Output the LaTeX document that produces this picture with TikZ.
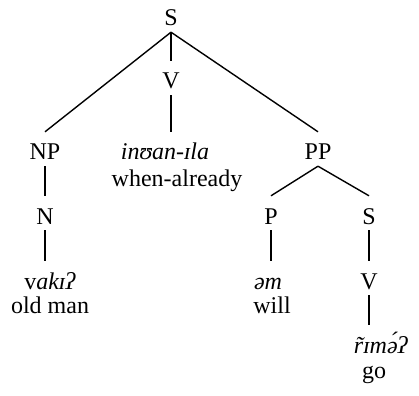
\documentclass[tikz,border=0pt]{standalone}
\usepackage{fontspec}
\setmainfont{Liberation Serif}
\usepackage{tikz}

\begin{document}
\begin{tikzpicture}[x=1pt,y=-1pt]
		\useasboundingbox (0,0) rectangle (419,395);
		\begin{scope}[every node/.style={anchor=base,inner sep=0pt,text height=28pt,text depth=6pt,font=\fontsize{24}{28}\selectfont}]
		    \node (S-top) at (171,26) {S};
		    \node (V-mid) at (171,89) {V};
		    \node (NP) at (45,160) {NP};
		    \node (inuan) at (165,160) {\textit{inʊan-ɪla}};
		    \node (PP) at (318,160) {PP};
		    \node (N) at (45,224) {N};
		    \node (P) at (271,224) {P};
		    \node (S-low) at (369,224) {S};
		    \node (vaki) at (50,289) {v\textit{akɪʔ}};
		    \node (em) at (268,289) {\textit{əm}};
		    \node (V-low) at (369,289) {V};
		    \node (rime) at (381,353) {\textit{r̃ɪmə́ʔ}};
		\end{scope}
		
		\begin{scope}[every node/.style={anchor=base,inner sep=0pt,font=\fontsize{24}{28}\selectfont}]
		    \node (gl-when) at (177,186) {when-already};
		    \node (gl-old) at (50,313) {old man};
		    \node (gl-will) at (272,313) {will};
		    \node (gl-go) at (374,378) {go};
		\end{scope}
		
		\begin{scope}[every edge/.style={draw=black,line width=1.4pt}]
		    \path (S-top.south) edge (NP.north);
		    \path (S-top.south) edge (V-mid.north);
		    \path (S-top.south) edge (PP.north);
		    \path (V-mid.south) edge (V-mid.south |- inuan.north);
		    \path (NP.south) edge (N.north);
		    \path (N.south) edge (N.south |- vaki.north);
		    \path (PP.south) edge (P.north);
		    \path (PP.south) edge (S-low.north);
		    \path (P.south) edge (P.south |- em.north);
		    \path (S-low.south) edge (V-low.north);
		    \path (V-low.south) edge (V-low.south |- rime.north);
		\end{scope}
\end{tikzpicture}
\end{document}
